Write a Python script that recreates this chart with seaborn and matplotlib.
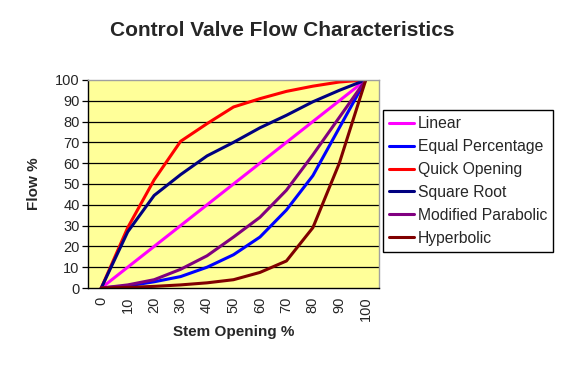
import pandas as pd
import seaborn as sns
import matplotlib.pyplot as plt

# valores
apertura = [0, 10, 20, 30, 40, 50, 60, 70, 80, 90, 100]
lineal = [0, 10, 20, 30, 40, 50, 60, 70, 80, 90, 100]
igual_pct = [0, 1, 3, 5.5, 10, 16, 24.5, 37.5, 54, 77, 100]
apertura_rapida = [0, 29, 52, 70.5, 79, 87, 91, 94.5, 97, 99, 100]
raiz_cuadrada = [0, 27, 44.5, 54.5, 63.5, 70, 77, 83, 89.5, 95, 100]
parabolica_mod = [0, 1.5, 4, 9, 15.5, 24.5, 34, 47, 64, 82, 100]
hiperbolica = [0, 0.3, 0.8, 1.5, 2.5, 4, 7.5, 13, 29, 60, 100]

series = {
    'Linear': lineal,
    'Equal Percentage': igual_pct,
    'Quick Opening': apertura_rapida,
    'Square Root': raiz_cuadrada,
    'Modified Parabolic': parabolica_mod,
    'Hyperbolic': hiperbolica,
}
colores = ['#FF00FF', '#0000FF', '#FF0000', '#000080', '#800080', '#800000']

filas = []
for nombre, valores in series.items():
    for i, v in enumerate(valores):
        filas.append({'pos': i, 'Flow': v, 'serie': nombre})
data = pd.DataFrame(filas)

sns.set_style('white')
plt.rcParams['font.family'] = ['Liberation Sans', 'DejaVu Sans']

fig = plt.figure(figsize=(5.65, 3.77), dpi=100)
ax = fig.add_axes([0.1558, 0.236, 0.515, 0.552])
ax.set_facecolor('#FFFF99')

for y in range(10, 100, 10):
    ax.axhline(y, color='black', lw=0.9, zorder=0.5)

sns.lineplot(data=data, x='pos', y='Flow', hue='serie', palette=colores,
             linewidth=2.2, ax=ax, legend=True)

ax.set_xlim(-0.5, 10.5)
ax.set_ylim(0, 100)
ax.set_yticks(range(0, 101, 10))
ax.set_yticklabels([str(v) for v in range(0, 101, 10)], fontsize=10.5)
ax.set_xticks(range(11))
ax.set_xticklabels([str(v) for v in apertura], rotation=90, fontsize=10.5)
ax.set_xticks([i - 0.5 for i in range(12)], minor=True)
ax.tick_params(axis='x', which='major', length=0, pad=6)
ax.tick_params(axis='x', which='minor', length=4, width=0.9, color='black', direction='out')
ax.tick_params(axis='y', length=4, width=0.9, color='black', direction='out', left=True, pad=2)

for lado in ['top', 'right']:
    ax.spines[lado].set_color('#A0A0A0')
    ax.spines[lado].set_linewidth(1)
for lado in ['left', 'bottom']:
    ax.spines[lado].set_color('black')
    ax.spines[lado].set_linewidth(1)

ax.set_xlabel('Stem Opening %', fontsize=11, fontweight='bold', labelpad=3)
ax.set_ylabel('Flow %', fontsize=11, fontweight='bold', labelpad=10)

handles, labels = ax.get_legend_handles_labels()
ax.get_legend().remove()
leg = fig.legend(handles, labels, loc='upper left', bbox_to_anchor=(0.678, 0.708),
                 borderaxespad=0, fontsize=11.3, frameon=True, fancybox=False,
                 edgecolor='black', framealpha=1, handlelength=1.6, handletextpad=0.2,
                 labelspacing=0.5, borderpad=0.4)
leg.get_frame().set_linewidth(1)

fig.text(0.5, 0.918, 'Control Valve Flow Characteristics', ha='center', va='center',
         fontsize=15, fontweight='bold')

fig.savefig('out.png', dpi=100)
